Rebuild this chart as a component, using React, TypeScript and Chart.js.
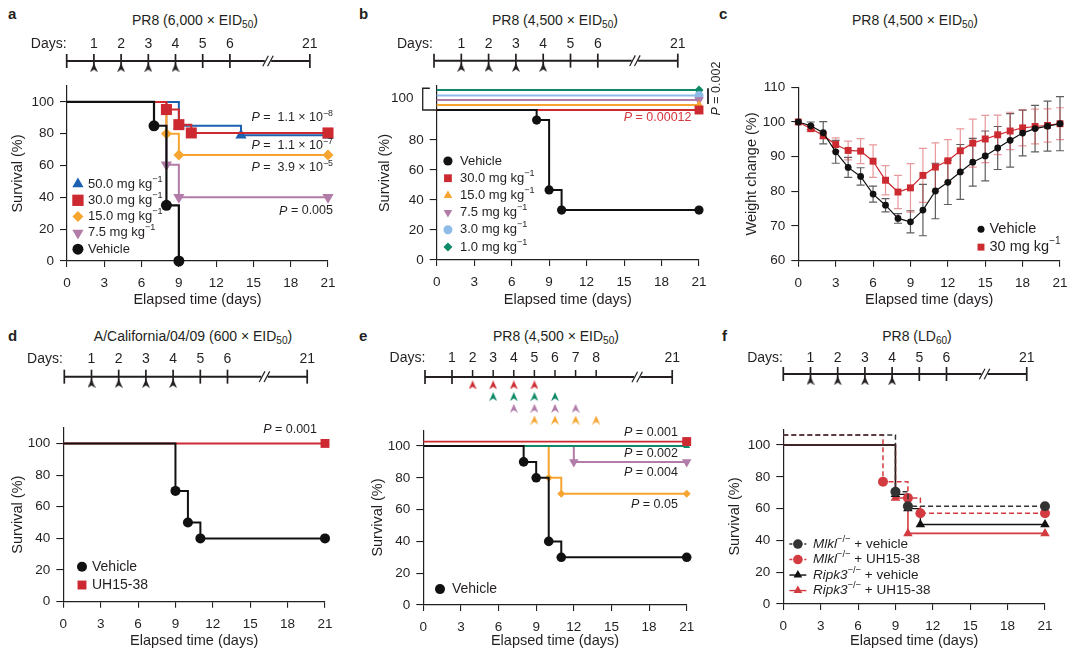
import React, { useEffect, useRef } from 'react';
import { Chart, registerables } from 'chart.js';

Chart.register(...registerables);

const FONT = '"Liberation Sans", Arial, Helvetica, sans-serif';
const INK = '#231f20';
const RED = '#cc2a30';
const RED_TEXT = '#d6363d';
const RED_F = '#d33b41';
const BLUE = '#1c60b0';
const ORANGE = '#f6a530';
const PURPLE = '#b27ca9';
const GREEN = '#0f8a68';
const LBLUE = '#8fbbe8';
const DARK = '#111111';
const DARK_DASH = '#333333';
const MINUS = '\u2212';

// ================= DATA =================
const dayTicks = [0, 3, 6, 9, 12, 15, 18, 21];
const survivalTicks = [0, 20, 40, 60, 80, 100];
const survivalTicksB = [0, 20, 40, 60, 80];
const weightTicks = [60, 70, 80, 90, 100, 110];

// panel a – PR8 (6,000 x EID50)
const aVehicleDays = [0, 7, 8, 9];
const aVehicleSurv = [100, 85, 35, 0];
const a50Days = [0, 9, 14, 21];
const a50Surv = [100, 85, 79, 79];
const a30Days = [0, 8, 9, 10, 21];
const a30Surv = [100, 95.2, 85.7, 80.5, 80.5];
const a15Days = [0, 8, 9, 21];
const a15Surv = [100, 80, 66.7, 66.7];
const a7Days = [0, 8, 9, 21];
const a7Surv = [100, 60.5, 40, 40];
const aPValues = [' 1.1 × 10^' + MINUS + '8', ' 1.1 × 10^' + MINUS + '7', ' 3.9 × 10^' + MINUS + '5', '0.005'];

// panel b – PR8 (4,500 x EID50); all treated groups 100 %, drawn stacked above 100 as in the original
const bVehicleDays = [0, 8, 9, 10, 21];
const bVehicleSurv = [100, 93.3, 46.7, 33.3, 33.3];
const bDoseLabels = ['30.0', '15.0', '7.5', '3.0', '1.0'];
const bDoseDays = [0, 21];
const bDoseDrawn = [100, 103.4, 106.6, 109.6, 113.4];
const bPValues = ['0.00012', '0.002'];

// panel c – weight change
const cDays = [0, 1, 2, 3, 4, 5, 6, 7, 8, 9, 10, 11, 12, 13, 14, 15, 16, 17, 18, 19, 20, 21];
const cVehicleMean = [100, 98.9, 96.9, 91.4, 86.9, 84.3, 79.2, 76.0, 72.2, 71.2, 74.6, 80.1, 82.6, 85.6, 88.4, 90.2, 92.5, 94.7, 96.8, 98.1, 98.8, 99.5];
const cVehicleSd = [0, 1.1, 3.2, 3.3, 2.9, 2.5, 2.3, 1.9, 1.4, 3.2, 7.4, 8.0, 6.4, 7.9, 6.9, 7.2, 6.2, 7.7, 6.6, 6.7, 7.2, 7.8];
const cTreatedMean = [100, 98.1, 96.1, 93.5, 91.8, 91.6, 88.7, 83.2, 79.8, 81.0, 84.6, 87.0, 88.8, 91.7, 93.9, 95.1, 96.3, 97.4, 98.3, 98.7, 99.0, 99.5];
const cTreatedSd = [0, 0.9, 1.0, 1.9, 2.7, 3.6, 4.7, 4.2, 4.8, 7.0, 7.8, 7.0, 6.1, 6.3, 6.9, 6.8, 5.7, 5.4, 5.2, 5.0, 4.8, 4.6];

// panel d – A/California/04/09
const dVehicleDays = [0, 9, 10, 11, 21];
const dVehicleSurv = [100, 70, 50, 40, 40];
const dTreatedDays = [0, 21];
const dTreatedSurv = [100, 100];
const dPValues = ['0.001'];

// panel e – delayed treatment start
const eVehicleDays = [0, 8, 9, 10, 11, 21];
const eVehicleSurv = [100, 90, 80, 40, 30, 30];
const eStartD2Days = [0, 21];
const eStartD2Surv = [102.8, 102.8];
const eStartD3Days = [0, 21];
const eStartD3Surv = [100, 100];
const eStartD4Days = [0, 12, 21];
const eStartD4Surv = [100, 90, 90];
const eStartD5Days = [0, 10, 11, 21];
const eStartD5Surv = [100, 80, 70, 70];
const ePValues = ['0.001', '0.002', '0.004', '0.05'];

// panel f – knockout mice
const fMlklVehDays = [0, 9, 10, 21];
const fMlklVehSurv = [106.3, 70.6, 61.5, 61.5];
const fMlklUhDays = [0, 8, 10, 11, 21];
const fMlklUhSurv = [106.3, 76.9, 66.7, 57.1, 57.1];
const fRipkVehDays = [0, 9, 10, 11, 21];
const fRipkVehSurv = [100, 69, 60, 50, 50];
const fRipkUhDays = [0, 9, 10, 21];
const fRipkUhSurv = [100, 66.7, 44.4, 44.4];

// timelines
const stdTimelineDays = [1, 2, 3, 4, 5, 6, 21];
const stdDosingDays = [1, 2, 3, 4];
const eTimelineDays = [1, 2, 3, 4, 5, 6, 7, 8, 21];
const eDosingD2 = [2, 3, 4, 5];
const eDosingD3 = [3, 4, 5, 6];
const eDosingD4 = [4, 5, 6, 7];
const eDosingD5 = [5, 6, 7, 8];

// ================= HELPERS =================
type Part = { t: string; it?: boolean; sup?: boolean };

const pText = (s: string): Part[] => {
  const [base, exp] = s.split('^');
  const parts: Part[] = [{ t: 'P', it: true }, { t: ' = ' + base }];
  if (exp) parts.push({ t: exp, sup: true });
  return parts;
};
const kg = (dose: string, unit = ' mg kg'): Part[] => [{ t: dose + unit }, { t: MINUS + '1', sup: true }];
const gene = (g: string, rest: string): Part[] => [{ t: g, it: true }, { t: MINUS + '/' + MINUS, sup: true }, { t: rest }];

function drawRich(ctx: CanvasRenderingContext2D, parts: Part[], x: number, y: number, size: number, align: string, color: string) {
  const fontOf = (p: Part) => `${p.it ? 'italic ' : ''}${p.sup ? size * 0.7 : size}px ${FONT}`;
  const widths = parts.map((p) => {
    ctx.font = fontOf(p);
    return ctx.measureText(p.t).width;
  });
  const total = widths.reduce((a, b) => a + b, 0);
  let cx = align === 'left' ? x : align === 'right' ? x - total : x - total / 2;
  ctx.fillStyle = color;
  ctx.textAlign = 'left';
  ctx.textBaseline = 'middle';
  parts.forEach((p, i) => {
    ctx.font = fontOf(p);
    ctx.fillText(p.t, cx, p.sup ? y - size * 0.38 : y);
    cx += widths[i];
  });
}

function drawMarker(ctx: CanvasRenderingContext2D, style: string, x: number, y: number, r: number, color: string, rot = 0) {
  ctx.save();
  ctx.fillStyle = color;
  ctx.beginPath();
  if (style === 'circle') ctx.arc(x, y, r, 0, Math.PI * 2);
  else if (style === 'rect') {
    const s = r * Math.SQRT1_2;
    ctx.rect(x - s, y - s, 2 * s, 2 * s);
  } else if (style === 'rectRot') {
    ctx.moveTo(x - r, y);
    ctx.lineTo(x, y - r);
    ctx.lineTo(x + r, y);
    ctx.lineTo(x, y + r);
    ctx.closePath();
  } else {
    let a = (rot * Math.PI) / 180;
    for (let k = 0; k < 3; k++) {
      const px = x + Math.sin(a) * r;
      const py = y - Math.cos(a) * r;
      if (k) ctx.lineTo(px, py);
      else ctx.moveTo(px, py);
      a += (2 * Math.PI) / 3;
    }
    ctx.closePath();
  }
  ctx.fill();
  ctx.restore();
}

type Series = {
  days: number[];
  vals: number[];
  color: string;
  style: string;
  r: number;
  rot?: number;
  width?: number;
  dash?: number[];
  stepped?: boolean;
  allMarks?: boolean;
  sd?: number[];
  sdColor?: string;
};
type LegendItem = { parts: Part[]; style: string; color: string; r: number; rot?: number; line?: boolean; dash?: number[] };
type Note = { x: number; y: number; parts: Part[]; align: string; color?: string; size?: number; rot?: number };
type Seg = { xs: number[]; ys: number[]; width: number };
type MainPanel = {
  box: { l: number; t: number; w: number; h: number };
  plotL: number;
  plotR: number;
  plotT: number;
  plotB: number;
  yMin: number;
  yMax: number;
  yTicks: number[];
  yTitle: string;
  yTitlePad: number;
  series: Series[];
  legend?: { x: number; y: number; gap: number; textGap: number; size: number; lineHalf?: number; items: LegendItem[] };
  notes?: Note[];
  segs?: Seg[];
};

function toDataset(s: Series) {
  return {
    data: s.days.map((d, i) => ({ x: d, y: s.vals[i] })),
    showLine: true,
    stepped: s.stepped === false ? false : true,
    borderColor: s.color,
    borderWidth: s.width ?? 2,
    borderDash: s.dash ?? [],
    pointStyle: s.style,
    pointRotation: s.rot ?? 0,
    pointRadius: s.allMarks ? s.r : (c: any) => (c.dataIndex === 0 ? 0 : s.r),
    pointHoverRadius: 0,
    pointBackgroundColor: s.color,
    pointBorderColor: s.color,
    pointBorderWidth: 0,
    clip: false,
  };
}

function overlayPlugin(p: MainPanel) {
  return {
    id: 'overlay',
    beforeDatasetsDraw(chart: any) {
      const { ctx } = chart;
      const xs = chart.scales.x;
      const ys = chart.scales.y;
      p.series.forEach((s) => {
        if (!s.sd) return;
        ctx.save();
        ctx.strokeStyle = s.sdColor || s.color;
        ctx.lineWidth = 1.2;
        s.days.forEach((d, i) => {
          const e = s.sd![i];
          if (!e) return;
          const x = xs.getPixelForValue(d);
          const y1 = ys.getPixelForValue(s.vals[i] - e);
          const y2 = ys.getPixelForValue(s.vals[i] + e);
          ctx.beginPath();
          ctx.moveTo(x, y1);
          ctx.lineTo(x, y2);
          ctx.moveTo(x - 4, y1);
          ctx.lineTo(x + 4, y1);
          ctx.moveTo(x - 4, y2);
          ctx.lineTo(x + 4, y2);
          ctx.stroke();
        });
        ctx.restore();
      });
    },
    afterDatasetsDraw(chart: any) {
      const { ctx } = chart;
      const xs = chart.scales.x;
      const ys = chart.scales.y;
      (p.segs || []).forEach((sg) => {
        ctx.save();
        ctx.strokeStyle = INK;
        ctx.lineWidth = sg.width;
        ctx.beginPath();
        sg.xs.forEach((xv, i) => {
          const px = xs.getPixelForValue(xv);
          const py = ys.getPixelForValue(sg.ys[i]);
          if (i) ctx.lineTo(px, py);
          else ctx.moveTo(px, py);
        });
        ctx.stroke();
        ctx.restore();
      });
      (p.notes || []).forEach((n) => {
        const x = xs.getPixelForValue(n.x);
        const y = ys.getPixelForValue(n.y);
        ctx.save();
        if (n.rot) {
          ctx.translate(x, y);
          ctx.rotate((n.rot * Math.PI) / 180);
          drawRich(ctx, n.parts, 0, 0, n.size || 12.5, n.align, n.color || INK);
        } else {
          drawRich(ctx, n.parts, x, y, n.size || 12.5, n.align, n.color || INK);
        }
        ctx.restore();
      });
      const lg = p.legend;
      if (lg) {
        const x0 = xs.getPixelForValue(lg.x);
        const y0 = ys.getPixelForValue(lg.y);
        lg.items.forEach((it, i) => {
          const y = y0 + i * lg.gap;
          if (it.line) {
            ctx.save();
            ctx.strokeStyle = it.color;
            ctx.lineWidth = 1.4;
            ctx.setLineDash(it.dash || []);
            ctx.beginPath();
            ctx.moveTo(x0 - (lg.lineHalf || 8), y);
            ctx.lineTo(x0 + (lg.lineHalf || 8), y);
            ctx.stroke();
            ctx.restore();
          }
          drawMarker(ctx, it.style, x0, y, it.r, it.color, it.rot || 0);
          drawRich(ctx, it.parts, x0 + lg.textGap, y, lg.size, 'left', INK);
        });
      }
    },
  };
}

function buildMain(canvas: HTMLCanvasElement, p: MainPanel) {
  const yW = p.plotL - p.box.l;
  const xH = p.box.t + p.box.h - p.plotB;
  const padT = p.plotT - p.box.t;
  const padR = p.box.l + p.box.w - p.plotR;
  const tickFont = { family: FONT, size: 13.5 };
  const titleFont = { family: FONT, size: 14.5 };
  return new Chart(canvas, {
    type: 'scatter',
    data: { datasets: p.series.map(toDataset) as any },
    options: {
      animation: false,
      responsive: false,
      events: [],
      layout: { autoPadding: false, padding: { top: padT, right: padR, bottom: 0, left: 0 } },
      plugins: { legend: { display: false }, tooltip: { enabled: false } },
      scales: {
        x: {
          type: 'linear',
          min: 0,
          max: 21,
          afterBuildTicks: (s: any) => {
            s.ticks = dayTicks.map((v) => ({ value: v }));
          },
          afterFit: (s: any) => {
            s.height = xH;
            s.paddingLeft = 0;
            s.paddingRight = 0;
          },
          grid: { drawOnChartArea: false, drawTicks: true, tickLength: 6, color: INK, lineWidth: 1.1 },
          border: { display: true, color: INK, width: 1.2 },
          ticks: { color: INK, font: tickFont, padding: 8, autoSkip: false, maxRotation: 0, minRotation: 0 },
          title: { display: true, text: 'Elapsed time (days)', color: INK, font: titleFont, padding: { top: 0, bottom: 0 } },
        },
        y: {
          type: 'linear',
          min: p.yMin,
          max: p.yMax,
          afterBuildTicks: (s: any) => {
            s.ticks = p.yTicks.map((v) => ({ value: v }));
          },
          afterFit: (s: any) => {
            s.width = yW;
            s.paddingTop = 0;
            s.paddingBottom = 0;
          },
          grid: { drawOnChartArea: false, drawTicks: true, tickLength: 7, color: INK, lineWidth: 1.1 },
          border: { display: true, color: INK, width: 1.2 },
          ticks: { color: INK, font: tickFont, padding: 6, autoSkip: false },
          title: { display: true, text: p.yTitle, color: INK, font: titleFont, padding: { top: p.yTitlePad, bottom: 0 } },
        },
      },
    } as any,
    plugins: [overlayPlugin(p)],
  });
}

// ---------- timeline
type Timeline = {
  left: number;
  width: number;
  labelY: number;
  lineY: number;
  bottom: number;
  startPx: number;
  unitPx: number;
  first: number;
  lastDay: number;
  breakPos: number;
  endPos: number;
  daysPos: number;
  labels: number[];
  fullTicks: number[];
  shortTicks: number[];
  rows: { days: number[]; color: string }[];
  rowOffset: number;
};
const TL_HX = 30;
const TL_PAD = 2;
const TL_FONT = 14;
const TL_LABEL_OFF = 20; // label centre sits this far above the chart-area top
const TL_ROW = 11.7;
const tlBox = (t: Timeline) => {
  const top = t.labelY + TL_LABEL_OFF - TL_HX;
  return { l: t.left, t: top, w: t.width, h: t.bottom - top };
};

function makeArrow(color: string) {
  const c = document.createElement('canvas');
  c.width = 8;
  c.height = 9;
  const g = c.getContext('2d')!;
  g.fillStyle = color;
  g.beginPath();
  g.moveTo(4, 0);
  g.lineTo(8, 9);
  g.lineTo(4, 6.3);
  g.lineTo(0, 9);
  g.closePath();
  g.fill();
  return c;
}

function buildTimeline(canvas: HTMLCanvasElement, t: Timeline, arrowFor: (c: string) => HTMLCanvasElement) {
  const box = tlBox(t);
  const pos = (d: number) => (d === 0 ? 0 : d > t.lastDay ? t.endPos : t.first + (d - 1));
  const xMin = -(t.startPx - box.l) / t.unitPx;
  const xMax = xMin + box.w / t.unitPx;
  const areaTop = box.t + TL_HX;
  const yMax = (t.lineY - areaTop) / TL_ROW;
  const yMin = yMax - (box.h - TL_HX) / TL_ROW;
  const gap = 3.2 / t.unitPx;
  const slash = 2.4 / t.unitPx;
  const tickVals = [t.daysPos, ...t.labels.map(pos)];
  const tickText = ['Days:', ...t.labels.map(String)];
  const datasets: any[] = [
    {
      data: [
        { x: 0, y: 0 },
        { x: t.breakPos - gap, y: 0 },
        { x: t.breakPos, y: null },
        { x: t.breakPos + gap, y: 0 },
        { x: t.endPos, y: 0 },
      ],
      showLine: true,
      spanGaps: false,
      borderColor: INK,
      borderWidth: 2,
      pointRadius: 0,
      clip: false,
    },
    {
      data: t.fullTicks.map((d) => ({ x: pos(d), y: 0 })),
      pointStyle: 'line',
      pointRotation: 90,
      pointRadius: 7,
      pointBorderWidth: 1.7,
      pointBorderColor: INK,
      showLine: false,
      clip: false,
    },
    {
      data: t.shortTicks.map((d) => ({ x: pos(d), y: 3.5 / TL_ROW })),
      pointStyle: 'line',
      pointRotation: 90,
      pointRadius: 3.5,
      pointBorderWidth: 1.5,
      pointBorderColor: INK,
      showLine: false,
      clip: false,
    },
    {
      data: [
        { x: t.breakPos - slash, y: 0 },
        { x: t.breakPos + slash, y: 0 },
      ],
      pointStyle: 'line',
      pointRotation: -62,
      pointRadius: 6,
      pointBorderWidth: 1.2,
      pointBorderColor: INK,
      showLine: false,
      clip: false,
    },
    ...t.rows.map((row, k) => ({
      data: row.days.map((d) => ({ x: pos(d), y: -(t.rowOffset + k) })),
      pointStyle: arrowFor(row.color),
      pointRadius: 4,
      showLine: false,
      clip: false,
    })),
  ];
  return new Chart(canvas, {
    type: 'scatter',
    data: { datasets },
    options: {
      animation: false,
      responsive: false,
      events: [],
      layout: { autoPadding: false, padding: 0 },
      plugins: { legend: { display: false }, tooltip: { enabled: false } },
      scales: {
        x: {
          type: 'linear',
          position: 'top',
          min: xMin,
          max: xMax,
          afterBuildTicks: (s: any) => {
            s.ticks = tickVals.map((v) => ({ value: v }));
          },
          afterFit: (s: any) => {
            s.height = TL_HX;
            s.paddingLeft = 0;
            s.paddingRight = 0;
          },
          grid: { display: false },
          border: { display: false },
          ticks: {
            color: INK,
            font: { family: FONT, size: TL_FONT },
            padding: TL_PAD,
            autoSkip: false,
            maxRotation: 0,
            minRotation: 0,
            callback: (v: number) => {
              const i = tickVals.findIndex((tv) => Math.abs(tv - v) < 1e-6);
              return i >= 0 ? tickText[i] : '';
            },
          },
        },
        y: { type: 'linear', display: false, min: yMin, max: yMax },
      },
    } as any,
  });
}

// ================= LAYOUT / PANELS =================
const MAIN_PANELS: MainPanel[] = [
  {
    box: { l: 0, t: 76, w: 362, h: 233 },
    plotL: 67,
    plotR: 328,
    plotT: 86,
    plotB: 261,
    yMin: 0,
    yMax: 110,
    yTicks: survivalTicks,
    yTitle: 'Survival (%)',
    yTitlePad: 9.3,
    series: [
      { days: aVehicleDays, vals: aVehicleSurv, color: DARK, style: 'circle', r: 5.5, width: 2.2 },
      { days: a30Days, vals: a30Surv, color: RED, style: 'rect', r: 7.8, width: 2 },
      { days: a50Days, vals: a50Surv, color: BLUE, style: 'triangle', r: 6.5, width: 2 },
      { days: a15Days, vals: a15Surv, color: ORANGE, style: 'rectRot', r: 5.5, width: 2 },
      { days: a7Days, vals: a7Surv, color: PURPLE, style: 'triangle', rot: 180, r: 6.5, width: 2 },
    ],
    legend: {
      x: 0.88,
      y: 48.4,
      gap: 16.3,
      textGap: 10,
      size: 13,
      items: [
        { parts: kg('50.0'), style: 'triangle', color: BLUE, r: 6.5 },
        { parts: kg('30.0'), style: 'rect', color: RED, r: 8 },
        { parts: kg('15.0'), style: 'rectRot', color: ORANGE, r: 5.5 },
        { parts: kg('7.5'), style: 'triangle', rot: 180, color: PURPLE, r: 6.5 },
        { parts: [{ t: 'Vehicle' }], style: 'circle', color: DARK, r: 5.5 },
      ],
    },
    notes: [
      { x: 21.4, y: 89.9, parts: pText(aPValues[0]), align: 'right' },
      { x: 21.4, y: 72.3, parts: pText(aPValues[1]), align: 'right' },
      { x: 21.4, y: 58.5, parts: pText(aPValues[2]), align: 'right' },
      { x: 21.4, y: 31.4, parts: pText(aPValues[3]), align: 'right' },
    ],
  },
  {
    box: { l: 360, t: 60, w: 366, h: 249 },
    plotL: 436.7,
    plotR: 699,
    plotT: 86,
    plotB: 260,
    yMin: 0,
    yMax: 116,
    yTicks: survivalTicksB,
    yTitle: 'Survival (%)',
    yTitlePad: 16.3,
    series: [
      { days: bVehicleDays, vals: bVehicleSurv, color: DARK, style: 'circle', r: 4.6, width: 2 },
      { days: bDoseDays, vals: [bDoseDrawn[0], bDoseDrawn[0]], color: RED, style: 'rect', r: 6.3, width: 2 },
      { days: bDoseDays, vals: [bDoseDrawn[1], bDoseDrawn[1]], color: ORANGE, style: 'triangle', r: 5, width: 2 },
      { days: bDoseDays, vals: [bDoseDrawn[2], bDoseDrawn[2]], color: PURPLE, style: 'triangle', rot: 180, r: 5.5, width: 2 },
      { days: bDoseDays, vals: [bDoseDrawn[3], bDoseDrawn[3]], color: LBLUE, style: 'circle', r: 4.5, width: 2 },
      { days: bDoseDays, vals: [bDoseDrawn[4], bDoseDrawn[4]], color: GREEN, style: 'rectRot', r: 4.5, width: 2 },
    ],
    legend: {
      x: 0.9,
      y: 66,
      gap: 17.2,
      textGap: 12,
      size: 13,
      items: [
        { parts: [{ t: 'Vehicle' }], style: 'circle', color: DARK, r: 4.6 },
        { parts: kg(bDoseLabels[0]), style: 'rect', color: RED, r: 5.5 },
        { parts: kg(bDoseLabels[1]), style: 'triangle', color: ORANGE, r: 5 },
        { parts: kg(bDoseLabels[2]), style: 'triangle', rot: 180, color: PURPLE, r: 5 },
        { parts: kg(bDoseLabels[3]), style: 'circle', color: LBLUE, r: 4.5 },
        { parts: kg(bDoseLabels[4]), style: 'rectRot', color: GREEN, r: 4.5 },
      ],
    },
    notes: [
      { x: 20.4, y: 95.3, parts: pText(bPValues[0]), align: 'right', color: RED_TEXT },
      { x: 22.44, y: 114.3, parts: pText(bPValues[1]), align: 'center', rot: -90 },
      { x: -1.85, y: 107.5, parts: [{ t: '100' }], align: 'right', size: 13.5 },
    ],
    segs: [
      { xs: [-0.55, -1.12, -1.12, -0.05], ys: [114.5, 114.5, 100, 100], width: 1.3 },
      { xs: [21.72, 21.72], ys: [114.5, 104], width: 1.8 },
    ],
  },
  {
    box: { l: 720, t: 77, w: 360, h: 232 },
    plotL: 798.3,
    plotR: 1060,
    plotT: 87.3,
    plotB: 260.7,
    yMin: 60,
    yMax: 110,
    yTicks: weightTicks,
    yTitle: 'Weight change (%)',
    yTitlePad: 23.3,
    series: [
      { days: cDays, vals: cVehicleMean, sd: cVehicleSd, sdColor: 'rgba(40,40,40,0.75)', color: DARK, style: 'circle', r: 3.4, width: 1.2, stepped: false, allMarks: true },
      { days: cDays, vals: cTreatedMean, sd: cTreatedSd, sdColor: 'rgba(214,70,76,0.55)', color: RED, style: 'rect', r: 4.9, width: 1.2, stepped: false, allMarks: true },
    ],
    legend: {
      x: 14.66,
      y: 69.1,
      gap: 18,
      textGap: 8.5,
      size: 14.5,
      items: [
        { parts: [{ t: 'Vehicle' }], style: 'circle', color: DARK, r: 3.5 },
        { parts: kg('30', ' mg kg'), style: 'rect', color: RED, r: 4.9 },
      ],
    },
  },
  {
    box: { l: 0, t: 417, w: 362, h: 233 },
    plotL: 63.3,
    plotR: 325,
    plotT: 427.6,
    plotB: 601.7,
    yMin: 0,
    yMax: 110,
    yTicks: survivalTicks,
    yTitle: 'Survival (%)',
    yTitlePad: 9.3,
    series: [
      { days: dVehicleDays, vals: dVehicleSurv, color: DARK, style: 'circle', r: 5, width: 2 },
      { days: dTreatedDays, vals: dTreatedSurv, color: RED, style: 'rect', r: 6.3, width: 2 },
    ],
    legend: {
      x: 1.5,
      y: 22.1,
      gap: 18.3,
      textGap: 10,
      size: 14,
      items: [
        { parts: [{ t: 'Vehicle' }], style: 'circle', color: DARK, r: 5 },
        { parts: [{ t: 'UH15-38' }], style: 'rect', color: RED, r: 6.3 },
      ],
    },
    notes: [{ x: 20.36, y: 108.5, parts: pText(dPValues[0]), align: 'right' }],
  },
  {
    box: { l: 360, t: 420, w: 362, h: 230 },
    plotL: 423.3,
    plotR: 686.7,
    plotT: 430.1,
    plotB: 605,
    yMin: 0,
    yMax: 110,
    yTicks: survivalTicks,
    yTitle: 'Survival (%)',
    yTitlePad: 9.3,
    series: [
      { days: eVehicleDays, vals: eVehicleSurv, color: DARK, style: 'circle', r: 4.8, width: 2 },
      { days: eStartD2Days, vals: eStartD2Surv, color: RED, style: 'rect', r: 6.3, width: 1.8 },
      { days: eStartD3Days, vals: eStartD3Surv, color: GREEN, style: 'triangle', r: 4, width: 2.2 },
      { days: eStartD4Days, vals: eStartD4Surv, color: PURPLE, style: 'triangle', rot: 180, r: 5.5, width: 2 },
      { days: eStartD5Days, vals: eStartD5Surv, color: ORANGE, style: 'rectRot', r: 4, width: 2 },
    ],
    legend: {
      x: 1.33,
      y: 10,
      gap: 18,
      textGap: 12,
      size: 14,
      items: [{ parts: [{ t: 'Vehicle' }], style: 'circle', color: DARK, r: 5 }],
    },
    notes: [
      { x: 20.3, y: 108.2, parts: pText(ePValues[0]), align: 'right' },
      { x: 20.3, y: 95, parts: pText(ePValues[1]), align: 'right' },
      { x: 20.3, y: 83.6, parts: pText(ePValues[2]), align: 'right' },
      { x: 20.3, y: 62.9, parts: pText(ePValues[3]), align: 'right' },
    ],
  },
  {
    box: { l: 720, t: 419, w: 360, h: 231 },
    plotL: 783.3,
    plotR: 1045,
    plotT: 429.1,
    plotB: 604,
    yMin: 0,
    yMax: 110,
    yTicks: survivalTicks,
    yTitle: 'Survival (%)',
    yTitlePad: 6.3,
    series: [
      { days: fMlklVehDays, vals: fMlklVehSurv, color: DARK_DASH, style: 'circle', r: 5, width: 1.5, dash: [5, 3] },
      { days: fMlklUhDays, vals: fMlklUhSurv, color: RED_F, style: 'circle', r: 5, width: 1.5, dash: [5, 3] },
      { days: fRipkVehDays, vals: fRipkVehSurv, color: DARK, style: 'triangle', r: 5.5, width: 1.3 },
      { days: fRipkUhDays, vals: fRipkUhSurv, color: RED_F, style: 'triangle', r: 5.5, width: 1.6 },
    ],
    legend: {
      x: 1.17,
      y: 37.7,
      gap: 15.5,
      textGap: 15,
      size: 13.5,
      lineHalf: 8.5,
      items: [
        { parts: gene('Mlkl', ' + vehicle'), style: 'circle', color: DARK_DASH, r: 4.8, line: true, dash: [3, 2] },
        { parts: gene('Mlkl', ' + UH15-38'), style: 'circle', color: RED_F, r: 4.8, line: true, dash: [3, 2] },
        { parts: gene('Ripk3', ' + vehicle'), style: 'triangle', color: DARK, r: 5, line: true },
        { parts: gene('Ripk3', ' + UH15-38'), style: 'triangle', color: RED_F, r: 5, line: true },
      ],
    },
  },
];

const stdTimeline = (left: number, labelY: number, lineY: number, startPx: number, unitPx: number, breakPos: number, endPos: number, daysPos: number): Timeline => ({
  left,
  width: 360,
  labelY,
  lineY,
  bottom: lineY + 20,
  startPx,
  unitPx,
  first: 1,
  lastDay: 6,
  breakPos,
  endPos,
  daysPos,
  labels: stdTimelineDays,
  fullTicks: [0, ...stdTimelineDays],
  shortTicks: [],
  rows: [{ days: stdDosingDays, color: INK }],
  rowOffset: 0.58,
});

const TIMELINES: Timeline[] = [
  stdTimeline(0, 42.7, 60.7, 66.7, 27.2, 7.4, 8.94, -0.66),
  stdTimeline(360, 43, 60.7, 434, 27.3, 7.36, 8.93, -0.7),
  stdTimeline(0, 358, 376.7, 64.3, 27.2, 7.36, 8.93, -0.71),
  {
    left: 360,
    width: 360,
    labelY: 357,
    lineY: 377,
    bottom: 430,
    startPx: 425,
    unitPx: 20.6,
    first: 1.31,
    lastDay: 8,
    breakPos: 10.3,
    endPos: 12.0,
    daysPos: -0.85,
    labels: eTimelineDays,
    fullTicks: [0, 1, 21],
    shortTicks: [2, 3, 4, 5, 6, 7, 8],
    rows: [
      { days: eDosingD2, color: RED },
      { days: eDosingD3, color: GREEN },
      { days: eDosingD4, color: PURPLE },
      { days: eDosingD5, color: ORANGE },
    ],
    rowOffset: 0.68,
  },
  stdTimeline(720, 357, 374, 783.3, 27.2, 7.4, 8.95, -0.67),
];

const LETTERS = [
  { t: 'a', x: 8, y: 5.6 },
  { t: 'b', x: 359, y: 5.6 },
  { t: 'c', x: 719, y: 5.6 },
  { t: 'd', x: 8, y: 328 },
  { t: 'e', x: 359, y: 328 },
  { t: 'f', x: 722, y: 328 },
];

const TITLES = [
  { cx: 195, top: 12.2, main: 'PR8 (6,000 × EID', sub: '50' },
  { cx: 555, top: 12.2, main: 'PR8 (4,500 × EID', sub: '50' },
  { cx: 915, top: 12.2, main: 'PR8 (4,500 × EID', sub: '50' },
  { cx: 193, top: 327.6, main: 'A/California/04/09 (600 × EID', sub: '50' },
  { cx: 556, top: 327.6, main: 'PR8 (4,500 × EID', sub: '50' },
  { cx: 917, top: 327.6, main: 'PR8 (LD', sub: '60' },
];

export default function App() {
  const mainRefs = useRef<(HTMLCanvasElement | null)[]>([]);
  const tlRefs = useRef<(HTMLCanvasElement | null)[]>([]);

  useEffect(() => {
    const charts: Chart[] = [];
    const arrows: Record<string, HTMLCanvasElement> = {};
    const arrowFor = (color: string) => {
      if (!arrows[color]) arrows[color] = makeArrow(color);
      return arrows[color];
    };
    MAIN_PANELS.forEach((p, i) => {
      const c = mainRefs.current[i];
      if (c) charts.push(buildMain(c, p));
    });
    TIMELINES.forEach((t, i) => {
      const c = tlRefs.current[i];
      if (c) charts.push(buildTimeline(c, t, arrowFor));
    });
    return () => {
      charts.forEach((c) => c.destroy());
    };
  }, []);

  return (
    <div
      style={{
        position: 'absolute',
        left: 0,
        top: 0,
        width: 1080,
        height: 658,
        background: '#ffffff',
        overflow: 'hidden',
        fontFamily: FONT,
        color: INK,
      }}
    >
      {LETTERS.map((l) => (
        <div key={l.t} style={{ position: 'absolute', left: l.x, top: l.y, fontSize: 15, lineHeight: '16px', fontWeight: 700 }}>
          {l.t}
        </div>
      ))}
      {TITLES.map((t, i) => (
        <div
          key={'t' + i}
          style={{ position: 'absolute', left: t.cx - 170, width: 340, top: t.top, textAlign: 'center', fontSize: 14, lineHeight: '16px', whiteSpace: 'nowrap' }}
        >
          {t.main}
          <sub style={{ fontSize: '0.72em', lineHeight: 0, verticalAlign: '-0.32em' }}>{t.sub}</sub>)
        </div>
      ))}
      {TIMELINES.map((t, i) => {
        const b = tlBox(t);
        return (
          <canvas
            key={'tl' + i}
            ref={(el) => {
              tlRefs.current[i] = el;
            }}
            width={b.w}
            height={Math.round(b.h)}
            style={{ position: 'absolute', left: b.l, top: b.t, width: b.w, height: Math.round(b.h) }}
          />
        );
      })}
      {MAIN_PANELS.map((p, i) => (
        <canvas
          key={'m' + i}
          ref={(el) => {
            mainRefs.current[i] = el;
          }}
          width={p.box.w}
          height={p.box.h}
          style={{ position: 'absolute', left: p.box.l, top: p.box.t, width: p.box.w, height: p.box.h }}
        />
      ))}
    </div>
  );
}
